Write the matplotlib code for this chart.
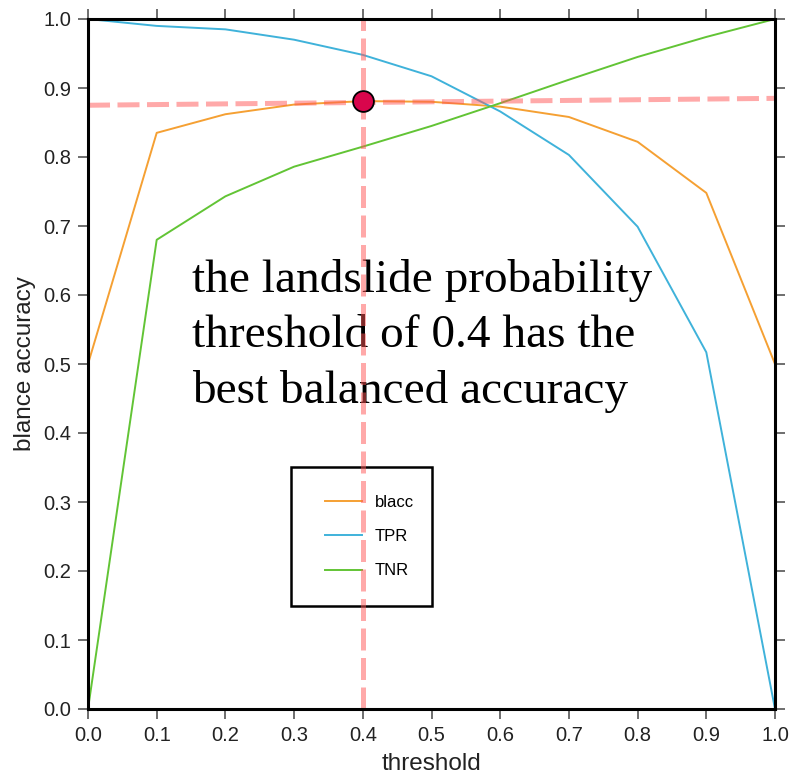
# balanced accuracy vs. landslide probability threshold
import matplotlib
matplotlib.use("Agg")
import matplotlib.pyplot as plt
from matplotlib.patches import Rectangle

limiares = [0.0, 0.1, 0.2, 0.3, 0.4, 0.5, 0.6, 0.7, 0.8, 0.9, 1.0]
blacc = [0.500, 0.835, 0.862, 0.876, 0.881, 0.880, 0.873, 0.858, 0.822, 0.748, 0.500]
tpr = [1.000, 0.990, 0.985, 0.970, 0.948, 0.917, 0.866, 0.803, 0.699, 0.517, 0.000]
tnr = [0.000, 0.680, 0.743, 0.786, 0.815, 0.845, 0.878, 0.912, 0.945, 0.974, 1.000]

melhor_x = 0.4
melhor_y = 0.881
linha_h = ([0.0, 1.0], [0.875, 0.885])

ticks = [0.0, 0.1, 0.2, 0.3, 0.4, 0.5, 0.6, 0.7, 0.8, 0.9, 1.0]
nota = "the landslide probability\nthreshold of 0.4 has the\nbest balanced accuracy"

cores = {"blacc": "#f5a033", "TPR": "#3fb2da", "TNR": "#62c435"}

plt.rcParams["font.family"] = ["Liberation Sans", "DejaVu Sans"]

fig = plt.figure(figsize=(7.9, 7.78), dpi=100)
ax = fig.add_axes([88 / 790, 69 / 778, 687 / 790, 690 / 778])

ax.plot(limiares, blacc, color=cores["blacc"], lw=1.4, label="blacc", zorder=3)
ax.plot(limiares, tpr, color=cores["TPR"], lw=1.4, label="TPR", zorder=3)
ax.plot(limiares, tnr, color=cores["TNR"], lw=1.4, label="TNR", zorder=3)

ax.text(0.152, 0.652, nota, family=["Liberation Serif", "DejaVu Serif"],
        fontsize=34, va="top", ha="left", linespacing=1.39, zorder=4)

tracejado = dict(color="#ff5555", alpha=0.5, lw=3.6, dashes=(4.4, 1.5), zorder=5)
ax.plot(*linha_h, **tracejado)
ax.axvline(melhor_x, **tracejado)

ax.plot([melhor_x], [melhor_y], "o", ms=15, mfc="#d8064c", mec="black",
        mew=1.3, zorder=6)

ax.set_xlim(0, 1)
ax.set_ylim(0, 1)
ax.set_xticks(ticks)
ax.set_yticks(ticks)
ax.set_xticklabels([f"{t:.1f}" for t in ticks])
ax.set_yticklabels([f"{t:.1f}" for t in ticks])
ax.tick_params(direction="out", length=7, width=1.2, color="#555555",
               labelsize=14.5, labelcolor="#222222", top=True, right=True, pad=5)
for s in ax.spines.values():
  s.set_linewidth(2.2)
  s.set_color("black")
  s.set_zorder(7)

ax.set_xlabel("threshold", fontsize=17.5, color="#222222", labelpad=6)
ax.set_ylabel("blance accuracy", fontsize=17.5, color="#222222", labelpad=5)

# caixa da legenda desenhada à parte
ax.add_patch(Rectangle((0.295, 0.149), 0.206, 0.202, transform=ax.transAxes,
                       fill=True, facecolor="white", edgecolor="black",
                       lw=1.8, zorder=2))
leg = ax.legend(loc="upper left", bbox_to_anchor=(0.333, 0.322), frameon=False,
                fontsize=12, handlelength=2.2, handletextpad=0.8,
                labelspacing=1.15, borderpad=0.0)
leg.set_zorder(2.5)

fig.savefig("out.png", dpi=100)
